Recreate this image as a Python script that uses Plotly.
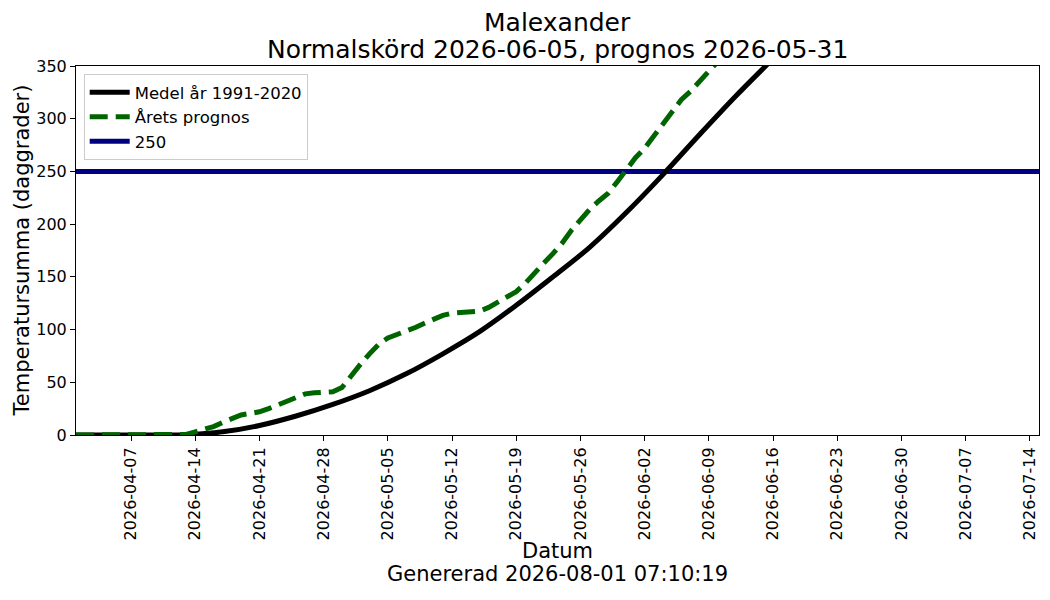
import pandas as pd
import plotly.graph_objects as go

# --- data ---
START = "2026-04-01"
END = "2026-07-15"

# normal (1991-2020) temperature sum, day offset from START -> value
normal_days = [0, 8, 12, 16, 20, 24, 28, 32, 36, 40, 44, 48, 52, 56, 60,
               64, 68, 72, 76, 80, 84, 90, 97, 105]
normal_values = [0, 0, 0.2, 3, 9, 18, 29, 42, 58, 77, 98, 123, 150, 178, 211,
                 247, 285, 322, 357, 392, 428, 482, 545, 618]

# this year's forecast, one value per day from START
forecast_values = [
    0, 0, 0, 0, 0, 0, 0, 0, 0, 0,
    0, 0, 0.5, 3, 5, 8, 12, 16, 19, 20.5,
    22, 25, 28.5, 32, 36, 39, 40, 40, 41, 45,
    57, 67, 77, 86, 92, 95, 98, 102, 106, 110,
    113.5, 115.5, 116, 116, 117.5, 121, 126, 131, 136, 144,
    154, 163, 172, 182, 194, 204, 214, 222, 229, 240,
    252, 263, 272, 284, 296, 308, 318, 326, 335, 344,
    354, 364, 374,
]

threshold = 250

title_lines = ["Malexander", "Normalskörd 2026-06-05, prognos 2026-05-31"]
x_label = "Datum"
generated = "Genererad 2026-08-01 07:10:19"
y_label = "Temperatursumma (daggrader)"

start = pd.Timestamp(START)
normal_dates = [start + pd.Timedelta(days=d) for d in normal_days]
forecast_dates = pd.date_range(START, periods=len(forecast_values), freq="D")
tick_dates = pd.date_range("2026-04-07", "2026-07-14", freq="7D")

FONT = "DejaVu Sans"

fig = go.Figure()

fig.add_trace(go.Scatter(
    x=[START, END], y=[threshold, threshold], mode="lines",
    name=str(threshold), line=dict(color="#000080", width=5),
    legendrank=3,
))
fig.add_trace(go.Scatter(
    x=normal_dates, y=normal_values, mode="lines",
    name="Medel år 1991-2020",
    line=dict(color="black", width=5, shape="spline", smoothing=1.0),
    legendrank=1,
))
fig.add_trace(go.Scatter(
    x=forecast_dates, y=forecast_values, mode="lines",
    name="Årets prognos", line=dict(color="#006400", width=5, dash="18px,8px"),
    legendrank=2,
))

axis_common = dict(
    showline=True, linecolor="black", linewidth=1, mirror=True,
    ticks="outside", ticklen=5, tickcolor="black",
    showgrid=False, zeroline=False,
    tickfont=dict(family=FONT, size=16, color="black"),
)

fig.update_xaxes(
    range=[START, END], tickvals=tick_dates,
    ticktext=[d.strftime("%Y-%m-%d") for d in tick_dates],
    tickangle=-90, **axis_common,
)
fig.update_yaxes(range=[0, 350], tickvals=list(range(0, 351, 50)), **axis_common)


def label(text, x, y, size, angle=0):
    return dict(text=text, xref="paper", yref="paper", x=x, y=y,
                xanchor="center", yanchor="middle", textangle=angle,
                showarrow=False, font=dict(size=size, family=FONT, color="black"))


# page body adds an 8px offset, so the figure is 8px smaller than the window
fig.update_layout(
    width=1042, height=592,
    paper_bgcolor="white", plot_bgcolor="white",
    font=dict(family=FONT, size=16, color="black"),
    margin=dict(l=68, r=11, t=58, b=165),
    legend=dict(
        x=0.008, y=0.978, xanchor="left", yanchor="top",
        bgcolor="rgba(255,255,255,0.8)", bordercolor="#cccccc", borderwidth=1,
        font=dict(size=16.5, family=FONT), traceorder="normal",
        itemwidth=40,
    ),
    showlegend=True,
    annotations=[
        label(title_lines[0], 0.5, 1.119, 25),
        label(title_lines[1], 0.5, 1.0434, 25),
        label(x_label, 0.5, -0.3144, 21),
        label(generated, 0.5, -0.3767, 21),
        label(y_label, -0.0561, 0.5, 21, angle=-90),
    ],
)

fig.write_html("out.html")
